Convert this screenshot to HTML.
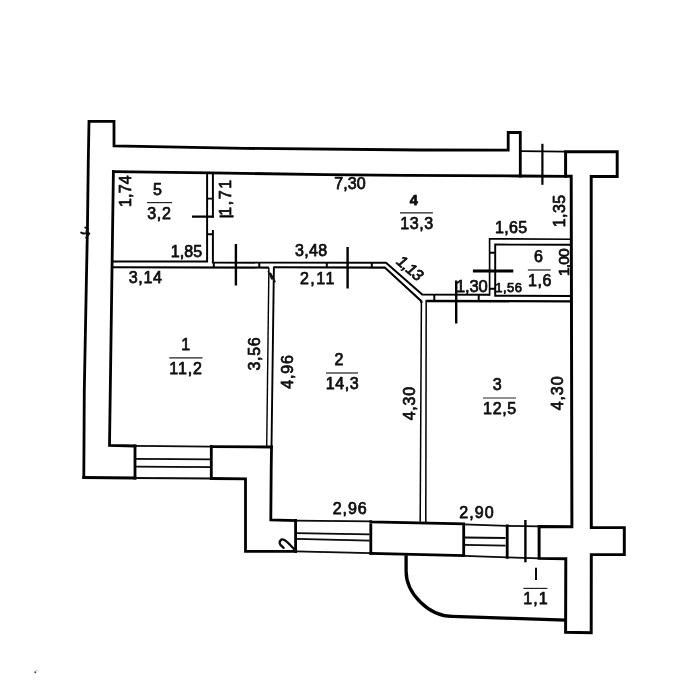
<!DOCTYPE html>
<html>
<head>
<meta charset="utf-8">
<title>Plan</title>
<style>
html,body{margin:0;padding:0;background:#fff;}
body{width:700px;height:700px;overflow:hidden;}
svg{display:block;}
text{font-family:"Liberation Sans",sans-serif;fill:#0c0c0c;}
.tx{fill:#0c0c0c;stroke:#0c0c0c;stroke-linejoin:round;}
.w{fill:none;stroke:#060606;stroke-width:2.8;stroke-linejoin:miter;stroke-linecap:square;}
.m{fill:none;stroke:#060606;stroke-width:1.95;stroke-linecap:butt;stroke-linejoin:miter;}
.t{fill:none;stroke:#080808;stroke-width:1.8;stroke-linecap:butt;}
.d{fill:none;stroke:#050505;stroke-width:2.4;stroke-linecap:butt;}
.u{fill:none;stroke:#222;stroke-width:1.2;}
</style>
</head>
<body>
<svg width="700" height="700" viewBox="0 0 700 700">
<rect width="700" height="700" fill="#fff"/>
<filter id="bl" x="0" y="0" width="700" height="700" filterUnits="userSpaceOnUse"><feGaussianBlur stdDeviation="0.4"/></filter>
<g filter="url(#bl)">

<!-- OUTER WALLS -->
<g class="w">
<path d="M83.8 477.5 L84.3 390 L86.3 285 L87.5 225 L88.3 160 L89 121.3 L114 121.3 L114 146 L245 148.4 L420 150 L508.2 150.2 L508.2 132.5 L520.3 132.5 L520.3 176"/>
<path d="M565.6 176.3 L565.6 151.8 L617.2 151.8 L617.2 176.5 L591.2 176.5 L591.3 527.6 L624.3 527.6 L624.3 554.6 L591.3 554.6 L591.2 632.7 L565.6 632.3 L565.8 558.7 L539.1 558.4 L539.1 526.6 L571.9 526.7 L571.2 176.3 L565.6 176.3" style="stroke-width:2.95"/>
<path d="M83.8 477.5 L135 478 M211.3 478.5 L245.5 478.8 L245.5 551.4 L295.6 551.4 M370.8 553.5 L463.7 555.6"/>
<path d="M113.4 171.7 L210 172.9 L325 174.6 L405 175.3 L520.3 176 L565.5 176.3"/>
<path d="M113.4 171.7 L109.5 445.5 L135 446 M211.3 446.6 L271.5 447"/>
<path d="M135 446 L135 478 M211.3 446.6 L211.3 478.5"/>
<path d="M273.9 267.5 L271.5 447.2" style="stroke-width:1.9"/>
<path d="M271.5 447.2 L271.2 470 L270.8 519.8 L295.6 520.5"/>
<path d="M295.6 520.5 L295.6 551.4 M370.8 521.6 L370.8 553.5 M370.8 521.8 L463.7 523.8 L463.7 555.6"/>
<path d="M507.2 525.8 L507.2 557.4"/>
</g>

<!-- INNER PARTITIONS -->
<g class="m">
<path d="M111.5 261.4 L207.1 261.4 L207.1 172.8"/>
<path d="M212.9 173 L212.9 217.5 M212.9 230 L212.9 262.6 L386 262.8 L422.2 294.6 L489.6 294.8"/>
<path d="M489.6 295.7 L489.6 238.8 L570.8 239.2" style="stroke-width:1.65"/>
<path d="M111.3 267.3 L268.9 267.6 M273.9 267.3 L384.8 267.6 L421.4 301.2 L421.4 303" style="stroke-width:2.1"/>
<path d="M421.4 301.2 L420.2 521.8" style="stroke-width:1.5"/>
<path d="M268.9 267.5 L266.7 447" style="stroke-width:1.4"/>
<path d="M571.8 301.4 L426.2 301" style="stroke-width:2.3"/>
<path d="M426.2 300 L425.8 522" style="stroke-width:1.5"/>
<path d="M570.8 244.8 L495.2 244.6 L495.2 295.8 L571.6 296"/>
<path d="M207.1 198.6 L212.9 198.6 M207.1 234.3 L212.9 234.3"/>
<path d="M213.8 262.6 L213.8 267.5 M259.3 262.6 L259.3 267.5 M326.8 262.6 L326.8 267.5 M371.8 262.6 L371.8 267.5"/>
<path d="M434.3 294.8 L434.3 301 M478.7 294.8 L478.7 301"/>
<path d="M489.6 252.7 L495.2 252.7 M489.6 288.7 L495.2 288.7"/>
</g>

<!-- WINDOWS / thin -->
<g class="t">
<path d="M135 445.8 L211.3 446.6 M135 458.9 L211.3 459.4 M135 466.7 L211.3 467.2 M135 478 L211.3 478.5"/>
<path d="M295.6 520.6 L370.8 521.4 M295.6 533.2 L369.5 534.3 M295.6 538.9 L369.5 540.6 M295.6 551.4 L370.8 553.2"/>
<path d="M463.7 524.3 L507.2 525.8 M463.7 537.5 L505.5 538 M463.7 544.8 L505.5 545.6 M463.7 555.8 L507.2 557.4"/>
<path d="M507.2 525.8 L539.4 526.4 M507.2 557.4 L539.4 558.4"/>

</g>

<path class="m" d="M520.3 151.1 L565.5 151.6" style="stroke-width:1.6"/>
<!-- DOOR MARKS -->
<g class="d">
<path d="M542.4 143.8 L542.4 184.8" style="stroke-width:2.2"/>
<path d="M235.9 244 L235.9 285.5"/>
<path d="M347.6 247 L347.6 288.5"/>
<path d="M456.2 280.5 L456.2 323.5"/>
<path d="M192 216.6 L214 216.6 M219.5 216.4 L233.6 216.4"/>
<path d="M472.9 270.9 L513.3 270.9" style="stroke-width:3"/>
<path d="M525.4 520 L525.4 562.3"/>
</g>

<!-- BALCONY -->
<path class="w" d="M406.1 555.2 L406.1 571.3 C406.1 593.8 429.2 616.4 452.1 616.4 L475 617.2 L565.8 620.1" style="stroke-width:3.3;stroke-linecap:butt"/>

<path d="M536 567.8 L536 580.1" fill="none" stroke="#0a0a0a" stroke-width="2"/>
<!-- squiggles -->
<path d="M283.6 547.9 L280.2 544.6 Q278.6 541.6 281.4 539.5 Q284 538.8 288.6 543.4 L293.8 548.8 L295.4 551.4" fill="none" stroke="#080808" stroke-width="2.2" stroke-linecap="round" stroke-linejoin="round"/>
<path d="M81.2 232.6 Q83.5 234.2 86.8 232.8 M85.2 227.5 L87.8 229 L86.5 231 L89.2 233.6 L86.2 237.5" fill="none" stroke="#080808" stroke-width="1.9" stroke-linecap="round"/>
<circle cx="35.3" cy="672.2" r="1" fill="#444"/><path d="M36 670.5 Q37.5 669.5 38.5 671" fill="none" stroke="#bbb" stroke-width="0.8"/>

<path d="M268.3 271.3 L271.6 278.8 M270.6 273.3 L275 281.6 M271.6 278.8 L273.4 278.4" fill="none" stroke="#0a0a0a" stroke-width="1.5" stroke-linecap="round"/>
<!-- TEXT -->
<g class="tx" stroke-width="0.75" font-size="16">
<text x="153.07" y="194.70">5</text>
<text x="147.29" y="218.60" textLength="23.5" lengthAdjust="spacing">3,2</text>
<text x="170.77" y="256.90" textLength="31.3" lengthAdjust="spacing">1,85</text>
<text x="334.18" y="188.60" textLength="31.4" lengthAdjust="spacing">7,30</text>
<text x="295.09" y="256.10" textLength="32" lengthAdjust="spacing">3,48</text>
<text x="409.85" y="205.00" font-size="14.5" font-weight="bold">4</text>
<text x="400.37" y="228.60" textLength="32.7" lengthAdjust="spacing">13,3</text>
<text x="495.07" y="233.30" textLength="32" lengthAdjust="spacing">1,65</text>
<text x="534.05" y="261.60">6</text>
<text x="527.97" y="285.70" textLength="23.4" lengthAdjust="spacing">1,6</text>
<text x="495.22" y="292.10" font-size="13" textLength="26.8" lengthAdjust="spacing">1,56</text>
<text x="456.03" y="291.50" font-size="16.5" textLength="31.7" lengthAdjust="spacing">1,30</text>
<text x="128.69" y="282.90" textLength="33.2" lengthAdjust="spacing">3,14</text>
<text x="181.37" y="349.70">1</text>
<text x="169.37" y="373.60" textLength="32.5" lengthAdjust="spacing">11,2</text>
<text x="299.90" y="284.00" textLength="34.5" lengthAdjust="spacing">2,11</text>
<text x="334.55" y="365.40">2</text>
<text x="325.67" y="388.60" textLength="33" lengthAdjust="spacing">14,3</text>
<text x="492.80" y="390.00">3</text>
<text x="483.07" y="413.60" textLength="33.2" lengthAdjust="spacing">12,5</text>
<text x="332.80" y="514.30" textLength="33.9" lengthAdjust="spacing">2,96</text>
<text x="459.20" y="517.60" textLength="34.4" lengthAdjust="spacing">2,90</text>
<text x="523.27" y="604.20" textLength="24.3" lengthAdjust="spacing">1,1</text>
<text transform="translate(131.40 207.03) rotate(-90)" textLength="31.8" lengthAdjust="spacing">1,74</text>
<text transform="translate(230.70 215.63) rotate(-90)" textLength="35.7" lengthAdjust="spacing">1,71</text>
<text transform="translate(565.40 227.33) rotate(-90)" textLength="32.6" lengthAdjust="spacing">1,35</text>
<text transform="translate(569.00 275.89) rotate(-90)" font-size="15.5" textLength="27.4" lengthAdjust="spacing">1,00</text>
<text transform="translate(260.00 370.61) rotate(-90)" textLength="33.4" lengthAdjust="spacing">3,56</text>
<text transform="translate(292.90 388.67) rotate(-90)" textLength="33.7" lengthAdjust="spacing">4,96</text>
<text transform="translate(414.50 420.37) rotate(-90)" textLength="33.6" lengthAdjust="spacing">4,30</text>
<text transform="translate(563.00 410.37) rotate(-90)" textLength="34" lengthAdjust="spacing">4,30</text>
<text transform="translate(395.10 262.40) rotate(41) skewX(-7)" textLength="29.3" lengthAdjust="spacing">1,13</text>
</g>

<!-- fraction lines -->
<g class="u">
<path d="M147.1 202.6 L172.1 202.6"/>
<path d="M400 212.9 L432.9 212.9"/>
<path d="M527.9 270 L550.7 270"/>
<path d="M169.3 357.9 L202.5 357.9"/>
<path d="M326 373 L358 373"/>
<path d="M483 398 L516 398"/>
<path d="M523.4 588.4 L547.4 588.4"/>
</g>
</g>
</svg>
</body>
</html>
